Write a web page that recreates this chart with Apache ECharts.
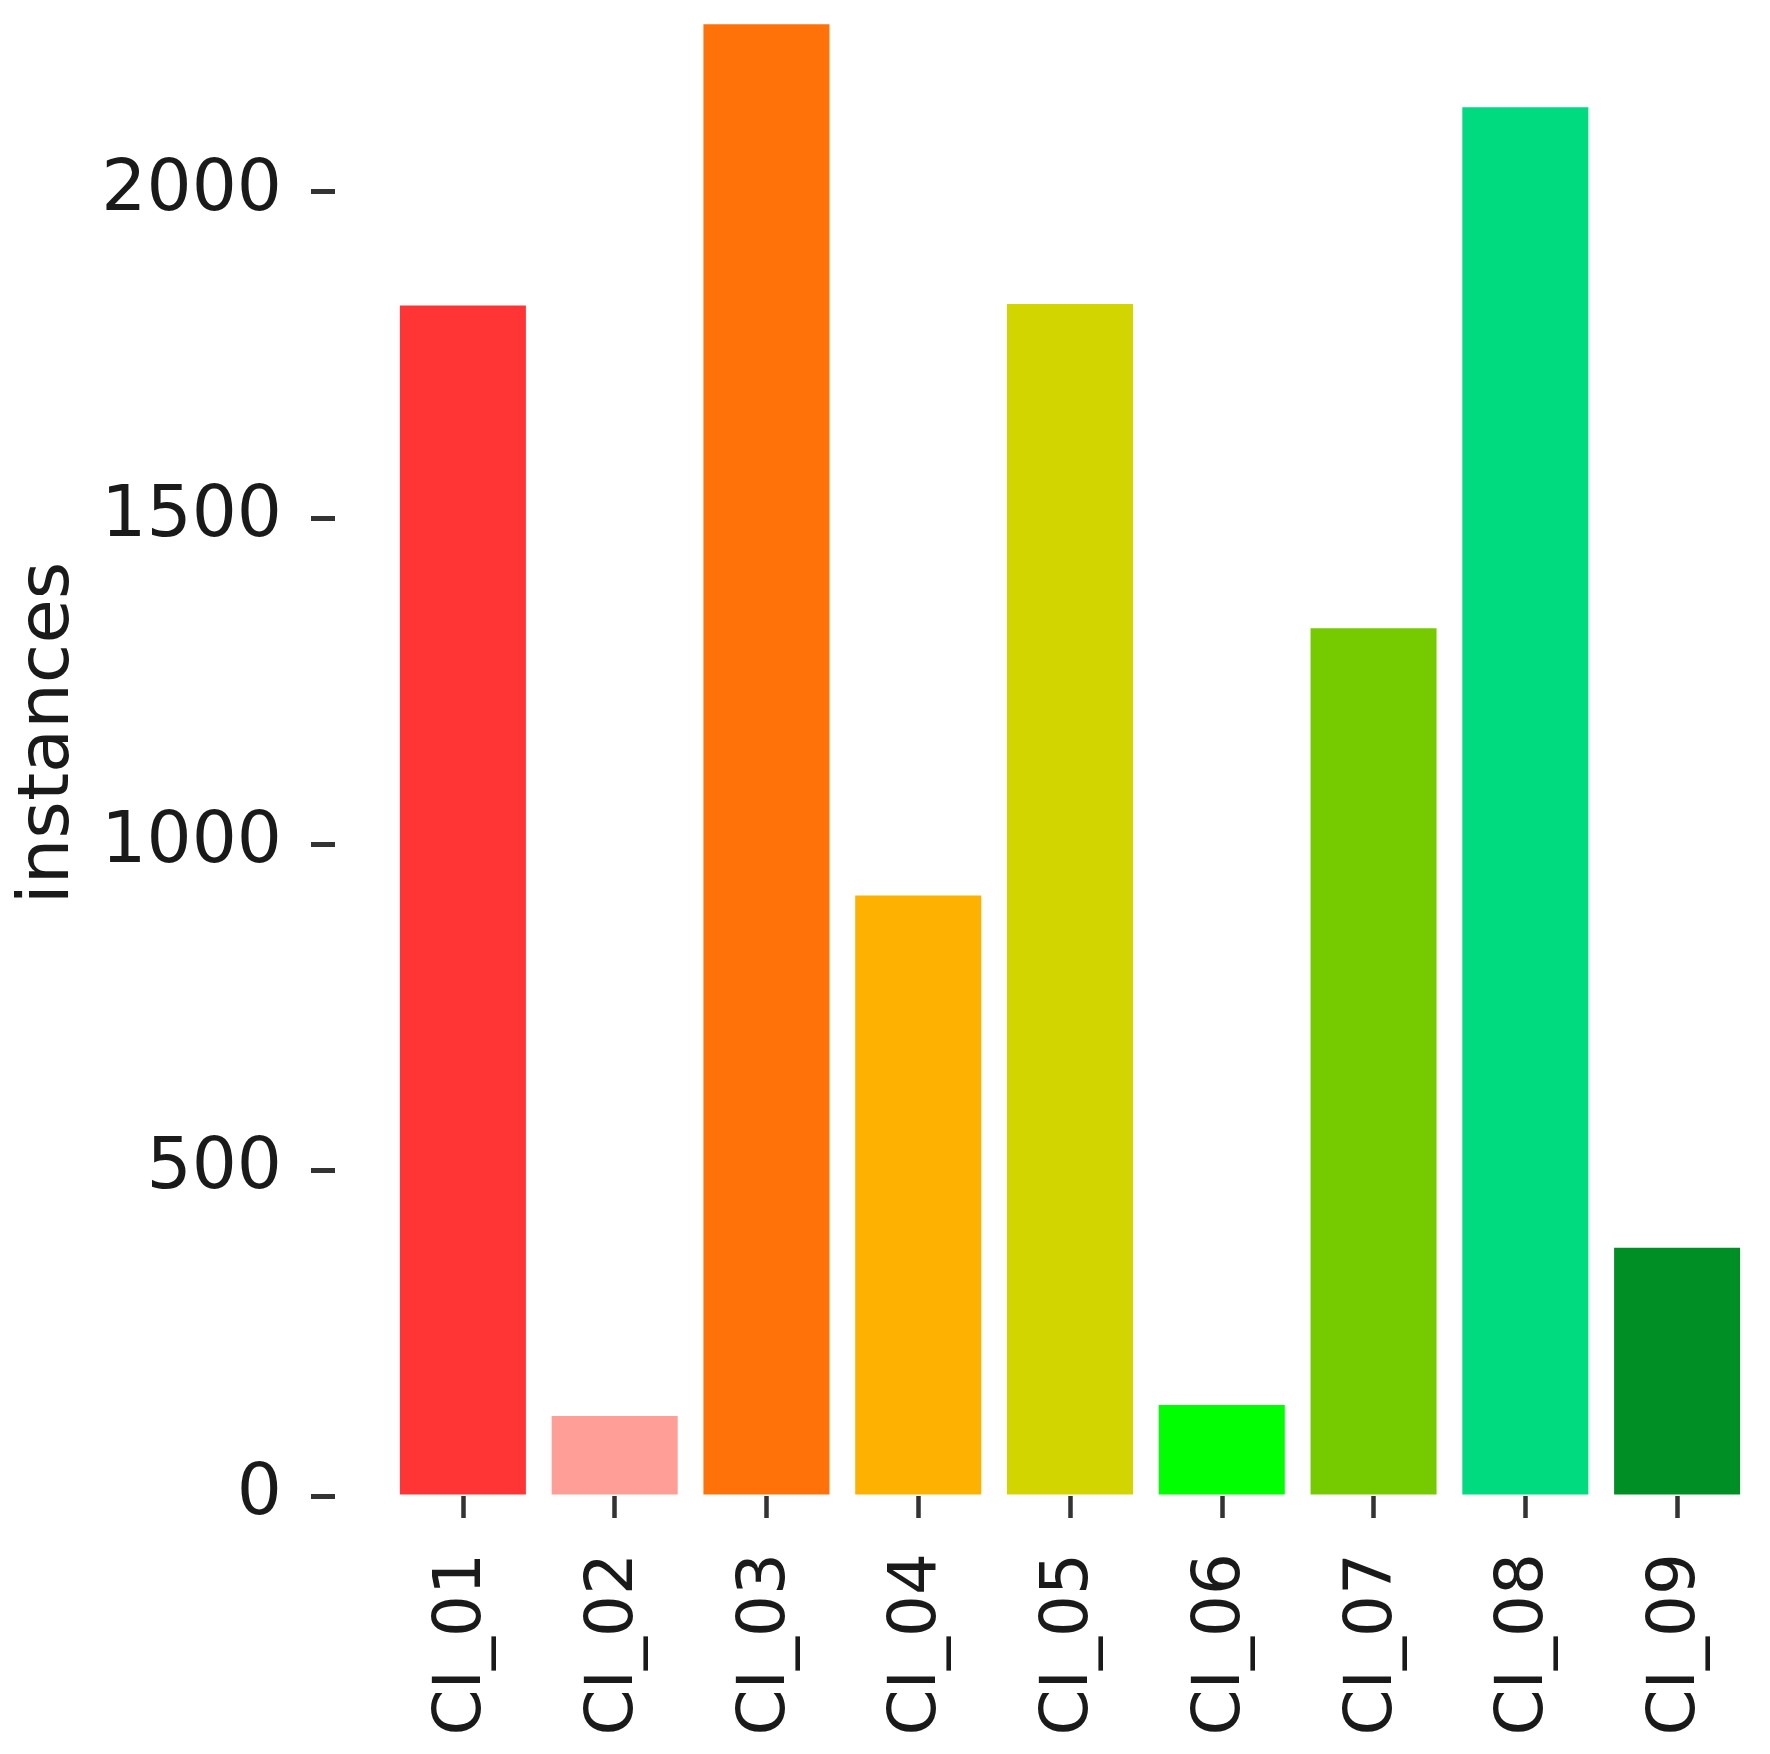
<!DOCTYPE html>
<html>
<head>
<meta charset="utf-8">
<script src="https://cdn.jsdelivr.net/npm/echarts@6/dist/echarts.min.js"></script>
<style>
  html, body { margin: 0; padding: 0; background: #fff; }
  #chart { width: 1770px; height: 1754px; }
</style>
</head>
<body>
<div id="chart"></div>
<script>
const categories = ['CI_01', 'CI_02', 'CI_03', 'CI_04', 'CI_05', 'CI_06', 'CI_07', 'CI_08', 'CI_09']
const instances = [1828, 125, 2259, 923, 1830, 142, 1333, 2132, 383]
const barColors = ['#FF3535', '#FF9D97', '#FF720A', '#FFB100', '#D3D500', '#00FF00', '#75CB00', '#00DB80', '#008F25']
const yTicks = [0, 500, 1000, 1500, 2000]

const chart = echarts.init(document.getElementById('chart'))
const font = 'DejaVu Sans'

chart.setOption({
  animation: false,
  grid: { left: 387, right: 17, top: 0, bottom: 258, outerBoundsMode: 'none' },
  xAxis: {
    type: 'category',
    data: categories,
    axisLine: { show: false },
    axisTick: { show: true, alignWithLabel: true, length: 22, lineStyle: { color: '#333', width: 4.5 } },
    axisLabel: { rotate: 90, margin: 57, color: '#1a1a1a', fontSize: 66, fontFamily: font }
  },
  yAxis: {
    type: 'value',
    min: 0, max: 2294,
    offset: 52,
    name: 'instances',
    nameLocation: 'middle',
    nameGap: 250,
    nameTextStyle: { color: '#1a1a1a', fontSize: 72, fontFamily: font, padding: [0, 0, 0, 30] },
    splitLine: { show: false },
    axisLine: { show: false },
    axisTick: { show: true, length: 24, customValues: yTicks, lineStyle: { color: '#333', width: 5 } },
    axisLabel: {
      margin: 53, customValues: yTicks, color: '#1a1a1a', fontSize: 71, fontFamily: font,
      formatter: v => String(v)
    }
  },
  series: [{
    type: 'bar',
    barCategoryGap: '15%',
    data: instances.map((v, i) => ({
      value: v,
      itemStyle: { color: barColors[i], borderColor: '#fff', borderWidth: 1.5 }
    }))
  }]
})
</script>
</body>
</html>
